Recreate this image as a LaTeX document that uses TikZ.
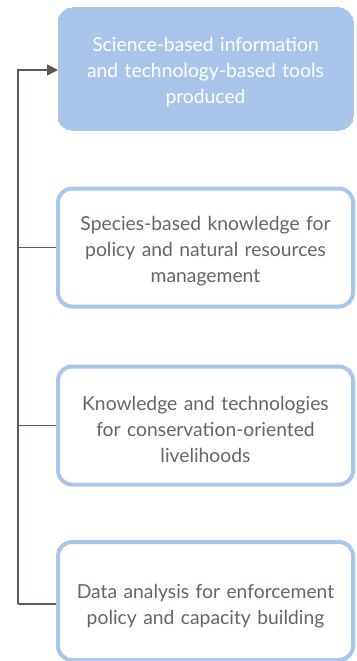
\documentclass[tikz,border=0pt]{standalone}
\usepackage{fontspec}
\setmainfont{Lato}
\usetikzlibrary{arrows.meta}
\definecolor{boxblue}{HTML}{A8C6EC}
\definecolor{txtgray}{HTML}{6B6361}
\definecolor{linegray}{HTML}{5F5856}
\tikzset{
  x=1pt, y=-1pt,
  outbox/.style={rectangle, rounded corners=14pt, minimum width=295pt, inner sep=0pt},
  filledbox/.style={outbox, fill=boxblue, draw=boxblue, line width=0pt, minimum height=122pt},
  linebox/.style={outbox, draw=boxblue, line width=4pt, fill=white, minimum height=118pt},
  boxtext/.style={text width=290pt, align=center, font=\fontsize{19.3}{26}\selectfont, inner sep=0pt, text=txtgray},
  conn/.style={draw=linegray, line width=1.5pt},
}
\begin{document}
\begin{tikzpicture}
\useasboundingbox (0,0) rectangle (356,661);
\begin{scope}
\clip (0,0) rectangle (356,661);
\node[filledbox] (b1) at (205.5,69) {};
\node[linebox] (b2) at (205.5,247.5) {};
\node[linebox] (b3) at (205.5,425.5) {};
\node[linebox] (b4) at (205.5,601) {};
\end{scope}
\node[boxtext, text=white] (t1) at ([yshift=-3.5pt]b1.center) {Science-based information\\and technology-based tools\\produced};
\node[boxtext] (t2) at ([yshift=-3.5pt]b2.center) {Species-based knowledge for\\policy and natural resources\\management};
\node[boxtext] (t3) at ([yshift=-3.5pt]b3.center) {Knowledge and technologies\\for conservation-oriented\\livelihoods};
\node[boxtext] (t4) at ([yshift=-5.5pt]b4.center) {Data analysis for enforcement\\policy and capacity building};
\coordinate (top) at (18,70);
\coordinate (bot) at (18,604);
\draw[conn, -{Triangle[length=11pt,width=11pt]}] (bot) -- (top) -- (b1.west |- top);
\draw[conn] (b2.west) -- (b2.west -| top);
\draw[conn] (b3.west) -- (b3.west -| top);
\draw[conn] (b4.west |- bot) -- (bot);
\end{tikzpicture}
\end{document}
